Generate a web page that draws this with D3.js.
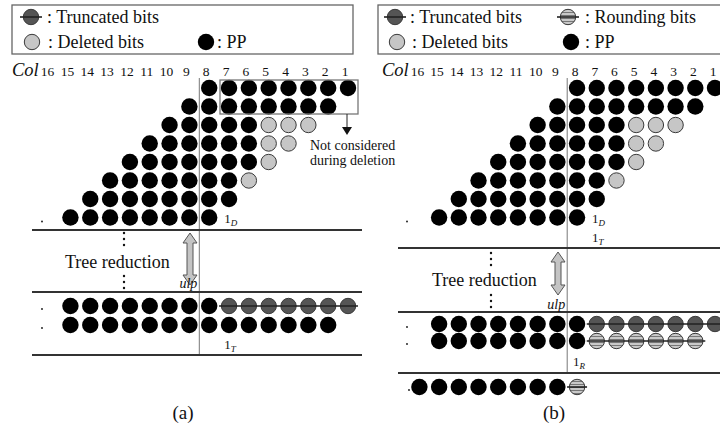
<!DOCTYPE html>
<html lang="en">
<head>
<meta charset="UTF-8">
<title>Deletion and truncation of partial products</title>
<script src="https://d3js.org/d3.v7.min.js"></script>
<style>
  body { margin: 0; background: #fff; }
  text { font-family: "Liberation Serif", "DejaVu Serif", serif; fill: #111; }
</style>
</head>
<body>
<svg id="chart" width="720" height="428"></svg>
<script>
// ---- data ----
const colLabels = d3.range(16, 0, -1);              // 16 ... 1
// partial product rows: [lowest col, highest col]
const ppRanges = [[1, 8], [2, 9], [3, 10], [4, 11], [5, 12], [6, 13], [7, 14], [8, 15]];
// deleted bits per PP row (same in both panels)
const deletedCols = [[], [], [3, 4, 5], [4, 5], [5], [6], [], []];
// rows after tree reduction
const reducedA = [
  { pp: [8, 15], kind: "trunc", other: [1, 7] },
  { pp: [2, 15], kind: null, other: [] }
];
const reducedB = [
  { pp: [8, 15], kind: "trunc", other: [1, 7] },
  { pp: [8, 15], kind: "round", other: [2, 7] }
];
const finalB = { pp: [9, 16], kind: "round", other: [8, 8] };
const legendA = [
  { type: "trunc", label: "Truncated bits" },
  { type: "deleted", label: "Deleted bits" },
  { type: "pp", label: "PP" }
];
const legendB = [
  { type: "trunc", label: "Truncated bits" },
  { type: "round", label: "Rounding bits" },
  { type: "deleted", label: "Deleted bits" },
  { type: "pp", label: "PP" }
];

const svg = d3.select("#chart");
const R = 8.2;

// hatch pattern for rounding bits
const pat = svg.append("defs").append("pattern")
  .attr("id", "hatch").attr("patternUnits", "userSpaceOnUse")
  .attr("width", 4).attr("height", 3);
pat.append("rect").attr("width", 4).attr("height", 3).attr("fill", "#c9c9c9");
pat.append("rect").attr("width", 4).attr("height", 1).attr("fill", "#777");

const fills = { pp: "#000", deleted: "#c6c6c6", trunc: "#555", round: "url(#hatch)" };

function drawDots(g, bits) {
  g.selectAll(null).data(bits).join("circle")
    .attr("cx", d => d.x).attr("cy", d => d.y)
    .attr("r", d => d.type === "pp" ? R : R - 0.5)
    .attr("fill", d => fills[d.type])
    .attr("stroke", d => d.type === "pp" ? "none" : "#3a3a3a")
    .attr("stroke-width", 1);
}

function strike(g, x0, x1, y) {
  g.append("line").attr("x1", x0).attr("x2", x1).attr("y1", y).attr("y2", y)
    .attr("stroke", "#222").attr("stroke-width", 1.6);
}

function subLabel(g, x, y, sub) {
  const t = g.append("text").attr("x", x).attr("y", y).attr("font-size", 13);
  t.append("tspan").text("1");
  t.append("tspan").text(sub).attr("font-style", "italic").attr("font-size", 9).attr("dy", 3);
}

function doubleArrow(g, cx, y0, y1) {
  const hw = 7, sw = 3, hl = 10;
  const pts = [[cx, y0], [cx + hw, y0 + hl], [cx + sw, y0 + hl], [cx + sw, y1 - hl], [cx + hw, y1 - hl],
    [cx, y1], [cx - hw, y1 - hl], [cx - sw, y1 - hl], [cx - sw, y0 + hl], [cx - hw, y0 + hl]];
  g.append("path").attr("d", d3.line()(pts) + "Z")
    .attr("fill", "#c4c4c4").attr("stroke", "#555").attr("stroke-width", 1);
}

function vDots(g, x, y0, y1) {
  g.selectAll(null).data(d3.range(3)).join("circle")
    .attr("cx", x).attr("cy", i => y0 + i * (y1 - y0) / 2).attr("r", 1.2).attr("fill", "#111");
}

function drawLegend(g, items, box, pos) {
  g.append("rect").attr("x", box[0]).attr("y", box[1]).attr("width", box[2]).attr("height", box[3])
    .attr("fill", "none").attr("stroke", "#666").attr("stroke-width", 1.3);
  items.forEach((it, i) => {
    const [cx, cy, dx] = pos[i];
    drawDots(g, [{ x: cx, y: cy, type: it.type }]);
    if (it.type === "trunc" || it.type === "round") strike(g, cx - 11, cx + 11, cy);
    g.append("text").attr("x", cx + dx).attr("y", cy + 6).attr("font-size", 18)
      .text(": " + it.label);
  });
}

function drawPanel(cfg) {
  const g = svg.append("g");
  const x = d3.scaleLinear().domain([16, 1]).range([cfg.x16, cfg.x1]);
  const y = d3.scaleLinear().domain([1, 8]).range([88, 217.5]);
  const xMid = x(8.5);

  drawLegend(g, cfg.legend, cfg.legendBox, cfg.legendPos);

  // column header
  g.append("text").attr("x", cfg.colX).attr("y", 76).attr("font-size", 18.5)
    .attr("font-style", "italic").text("Col");
  g.selectAll(null).data(colLabels).join("text")
    .attr("x", d => x(d) - cfg.labelShift).attr("y", 76).attr("font-size", 13.5)
    .attr("text-anchor", "middle").text(d => d);

  // vertical guide and horizontal separators
  g.append("line").attr("x1", xMid).attr("x2", xMid).attr("y1", 78).attr("y2", cfg.hLines[2])
    .attr("stroke", "#777").attr("stroke-width", 1);
  cfg.hLines.forEach(hy => {
    g.append("line").attr("x1", cfg.hx[0]).attr("x2", cfg.hx[1]).attr("y1", hy).attr("y2", hy)
      .attr("stroke", "#333").attr("stroke-width", 2);
  });

  // partial products with deleted bits
  const bits = [];
  ppRanges.forEach((rng, i) => {
    d3.range(rng[0], rng[1] + 1).forEach(c => {
      bits.push({ x: x(c), y: y(i + 1), type: deletedCols[i].includes(c) ? "deleted" : "pp" });
    });
  });
  drawDots(g, bits);
  g.append("circle").attr("cx", cfg.dotX).attr("cy", y(8) + 4).attr("r", 0.9).attr("fill", "#111");
  subLabel(g, x(8) + 15, y(8) + 5, "D");
  if (cfg.key === "b") subLabel(g, x(8) + 15, y(8) + 24, "T");

  // tree reduction
  g.append("text").attr("x", cfg.treeX).attr("y", cfg.treeY).attr("font-size", 18).text("Tree reduction");
  vDots(g, cfg.dotsX, cfg.dots1[0], cfg.dots1[1]);
  vDots(g, cfg.dotsX, cfg.dots2[0], cfg.dots2[1]);
  doubleArrow(g, cfg.arrowX, cfg.arrowY[0], cfg.arrowY[1]);
  g.append("text").attr("x", xMid - 2).attr("y", cfg.ulpY).attr("font-size", 14)
    .attr("font-style", "italic").attr("text-anchor", "end").attr("fill", "#333").text("ulp");

  // reduced rows
  cfg.reduced.forEach((row, i) => {
    const ry = cfg.reducedY[i];
    const rb = d3.range(row.pp[0], row.pp[1] + 1).map(c => ({ x: x(c), y: ry, type: "pp" }));
    const ob = d3.range(row.other[0], row.other[1] + 1).map(c => ({ x: x(c), y: ry, type: row.kind }));
    drawDots(g, rb.concat(row.kind ? ob : []));
    if (row.kind) strike(g, x(row.other[1]) - 10, x(row.other[0]) + 10, ry);
    g.append("circle").attr("cx", cfg.dotX).attr("cy", ry + 3).attr("r", 0.9).attr("fill", "#111");
  });

  g.append("text").attr("x", cfg.capX).attr("y", 419).attr("font-size", 19)
    .attr("text-anchor", "middle").text(cfg.caption);
  return { g, x, y };
}

// ---- panel (a) ----
const pa = drawPanel({
  key: "a", x16: 50.6, x1: 348, colX: 12, labelShift: 3,
  legend: legendA, legendBox: [12, 5, 341, 49],
  legendPos: [[31, 17, 16], [32, 42, 16], [206, 42, 11]],
  hLines: [230, 292, 355], hx: [32, 362], dotX: 42,
  treeX: 65, treeY: 268, dotsX: 124, dots1: [233, 245], dots2: [276, 288],
  arrowX: 190, arrowY: [233, 285], ulpY: 288,
  reduced: reducedA, reducedY: [306, 325], capX: 183, caption: "(a)"
});
subLabel(pa.g, pa.x(8) + 15, 349, "T");
// box around bits not considered during deletion
pa.g.append("rect").attr("x", 220).attr("y", 80).attr("width", 138).attr("height", 34)
  .attr("fill", "none").attr("stroke", "#777").attr("stroke-width", 1.3);
pa.g.append("line").attr("x1", 347).attr("x2", 347).attr("y1", 114).attr("y2", 128)
  .attr("stroke", "#222").attr("stroke-width", 1);
pa.g.append("path").attr("d", "M342,127L352,127L347,135Z").attr("fill", "#111");
pa.g.append("text").attr("x", 310).attr("y", 150).attr("font-size", 14).attr("fill", "#333")
  .text("Not considered");
pa.g.append("text").attr("x", 310).attr("y", 165).attr("font-size", 14).attr("fill", "#333")
  .text("during deletion");

// ---- panel (b) ----
const pb = drawPanel({
  key: "b", x16: 419.4, x1: 715, colX: 382, labelShift: 2,
  legend: legendB, legendBox: [378, 5, 360, 49],
  legendPos: [[395, 17, 15], [568, 17, 17], [397, 42, 15], [571, 42, 14]],
  hLines: [248, 312, 373], hx: [398, 722], dotX: 407,
  treeX: 432, treeY: 286, dotsX: 491, dots1: [253, 265], dots2: [295, 307],
  arrowX: 558, arrowY: [252, 295], ulpY: 309,
  reduced: reducedB, reducedY: [324, 341], capX: 554, caption: "(b)"
});
subLabel(pb.g, pb.x(8) - 4, 366, "R");
// final rounded row
const fy = 387;
drawDots(pb.g, d3.range(finalB.pp[0], finalB.pp[1] + 1).map(c => ({ x: pb.x(c), y: fy, type: "pp" }))
  .concat([{ x: pb.x(finalB.other[0]), y: fy, type: finalB.kind }]));
strike(pb.g, pb.x(8) - 10, pb.x(8) + 10, fy);
pb.g.append("circle").attr("cx", 409).attr("cy", fy + 3).attr("r", 0.9).attr("fill", "#111");
</script>
</body>
</html>
